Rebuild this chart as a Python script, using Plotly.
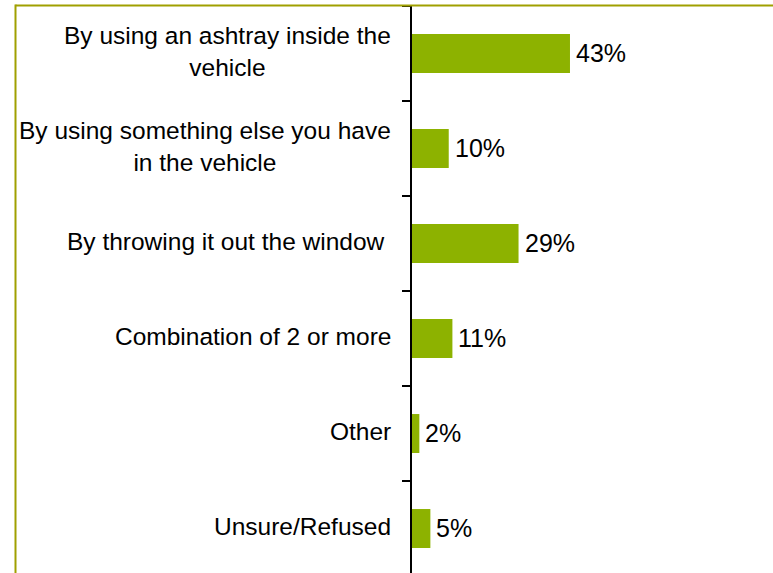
import plotly.graph_objects as go

# Survey responses: how smokers dispose of cigarette butts while in a vehicle
categories = [
    "By using an ashtray inside the<br>vehicle",
    "By using something else you have<br>in the vehicle",
    "By throwing it out the window\u00a0",
    "Combination of 2 or more",
    "Other",
    "Unsure/Refused",
]
shares = [43, 10, 29, 11, 2, 5]
share_labels = ["43%", "10%", "29%", "11%", "2%", "5%"]

FONT = "Liberation Sans, Arial, sans-serif"
BAR_COLOR = "#8DB200"
FRAME_COLOR = "#A0A000"

W, H = 773, 573
left, right, top, bottom = 412, 0, 6, 0
plot_w = W - left - right
plot_h = H - top - bottom
px_per_unit = 3.674          # horizontal scale: pixels per percentage point
row_px = 95                  # vertical space per category

fig = go.Figure(
    go.Bar(
        x=shares,
        y=categories,
        orientation="h",
        marker=dict(color=BAR_COLOR, line=dict(width=0)),
        width=0.41,
        hoverinfo="skip",
    )
)

# Category labels, right-aligned against the axis, multi-line text centred
for name in categories:
    fig.add_annotation(
        text=name,
        xref="paper",
        yref="y",
        x=(393 - left) / plot_w,
        y=name,
        xanchor="right",
        yanchor="middle",
        align="center",
        yshift=2,
        showarrow=False,
        font=dict(family=FONT, size=24.5, color="#000000"),
    )

# Value labels just past the end of each bar
for name, value, label in zip(categories, shares, share_labels):
    fig.add_annotation(
        text=label,
        xref="x",
        yref="y",
        x=value,
        y=name,
        xanchor="left",
        yanchor="middle",
        xshift=4,
        yshift=1,
        showarrow=False,
        font=dict(family=FONT, size=25, color="#000000"),
    )

# Open frame: top and left edges of the chart area
frame_left = (15.5 - left) / plot_w
fig.add_shape(type="line", xref="paper", yref="paper",
              x0=frame_left, x1=1.01, y0=1.0 + 0.5 / plot_h, y1=1.0 + 0.5 / plot_h,
              line=dict(color=FRAME_COLOR, width=2))
fig.add_shape(type="line", xref="paper", yref="paper",
              x0=frame_left, x1=frame_left, y0=-0.02, y1=1.0 + 1.5 / plot_h,
              line=dict(color=FRAME_COLOR, width=2))

fig.update_xaxes(
    range=[0, plot_w / px_per_unit],
    visible=False,
    fixedrange=True,
)
fig.update_yaxes(
    type="category",
    categoryorder="array",
    categoryarray=categories,
    range=[-0.5 + plot_h / row_px, -0.5],
    showticklabels=False,
    tickson="boundaries",
    ticks="outside",
    ticklen=8,
    tickwidth=2,
    tickcolor="#000000",
    showline=True,
    linecolor="#000000",
    linewidth=2,
    showgrid=False,
    zeroline=False,
    fixedrange=True,
)

fig.update_layout(
    width=W,
    height=H,
    margin=dict(l=left, r=right, t=top, b=bottom, pad=0),
    paper_bgcolor="#FFFFFF",
    plot_bgcolor="#FFFFFF",
    showlegend=False,
    font=dict(family=FONT, size=24, color="#000000"),
)

fig.write_html("out.html")
